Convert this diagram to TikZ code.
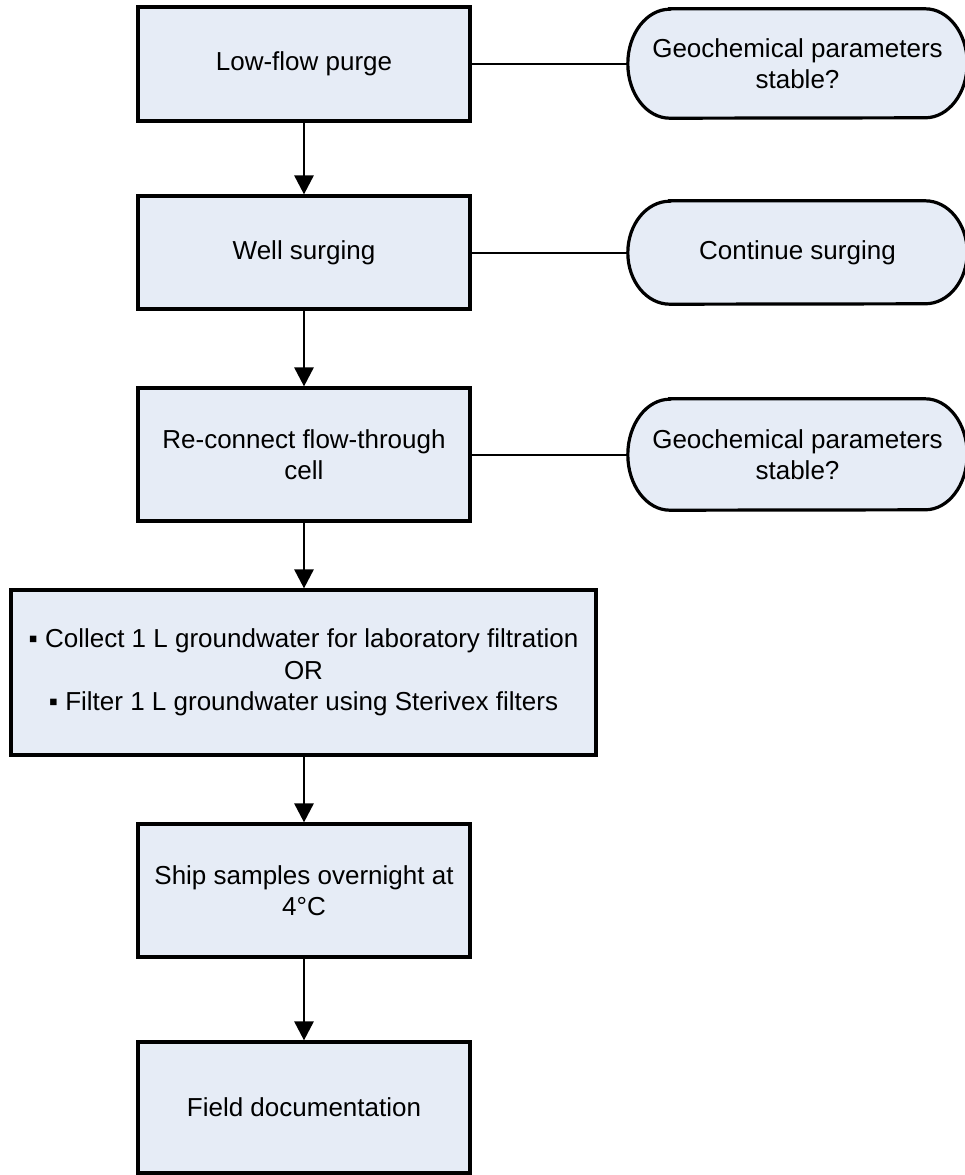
\documentclass[tikz,border=0pt]{standalone}
\usepackage{fontspec}
\setmainfont{Liberation Sans}
\usetikzlibrary{arrows.meta,backgrounds}
\definecolor{boxfill}{RGB}{230,236,246}
\tikzset{
  stepbox/.style={draw=black, line width=3.2pt, fill=boxfill, rectangle,
    align=center, inner sep=0pt, font=\fontsize{26}{31.5}\selectfont},
  termtext/.style={align=center, inner sep=0pt, font=\fontsize{26}{31.5}\selectfont},
  termshape/.style={draw=black, line width=3.2pt, fill=boxfill},
  flowarrow/.style={line width=2.8pt, -{Triangle[width=19pt,length=19pt]}},
  sideline/.style={line width=2pt}
}
\newcommand\mkterm[3]{% name, x radius, y radius
  \begin{scope}[on background layer]
  \path[termshape] ([xshift=#2pt]#1.north west) -- ([xshift=-#2pt]#1.north east)
    arc[start angle=90,end angle=-90,x radius=#2pt,y radius=#3pt]
    -- ([xshift=#2pt]#1.south west)
    arc[start angle=270,end angle=90,x radius=#2pt,y radius=#3pt] -- cycle;
  \end{scope}}
\begin{document}
\begin{tikzpicture}[x=1pt,y=-1pt]
\useasboundingbox (0,0) rectangle (964,1175);
\node[stepbox, minimum width=332pt, minimum height=114pt] (b1) at (304,64) {Low-flow purge};
\node[stepbox, minimum width=332pt, minimum height=113pt] (b2) at (304,252.5) {Well surging};
\node[stepbox, minimum width=332pt, minimum height=133pt] (b3) at (304,454.5) {Re-connect flow-through\\cell};
\node[stepbox, minimum width=585pt, minimum height=165pt] (b4) at (303.5,672.5) {▪ Collect 1 L groundwater for laboratory filtration\\OR\\▪ Filter 1 L groundwater using Sterivex filters};
\node[stepbox, minimum width=332pt, minimum height=133pt] (b5) at (304,890.5) {Ship samples overnight at\\4°C};
\node[stepbox, minimum width=332pt, minimum height=131pt] (b6) at (304,1107.5) {Field documentation};

\node[termtext, minimum width=339pt, minimum height=109pt] (t1) at (797.5,63.5) {Geochemical parameters\\stable?};
\node[termtext, minimum width=339pt, minimum height=103pt] (t2) at (797.5,252.5) {Continue surging};
\node[termtext, minimum width=339pt, minimum height=111pt] (t3) at (797.5,454.5) {Geochemical parameters\\stable?};
\mkterm{t1}{42}{54.5}
\mkterm{t2}{42}{51.5}
\mkterm{t3}{42}{55.5}

\draw[sideline] (b1.east) -- (b1.east -| t1.west);
\draw[sideline] (b2.east) -- (b2.east -| t2.west);
\draw[sideline] (b3.east) -- (b3.east -| t3.west);

\draw[flowarrow] (b1.south) -- (b2.north);
\draw[flowarrow] (b2.south) -- (b3.north);
\draw[flowarrow] (b3.south) -- (b3.south |- b4.north);
\draw[flowarrow] (b5.north |- b4.south) -- (b5.north);
\draw[flowarrow] (b5.south) -- (b6.north);
\end{tikzpicture}
\end{document}
